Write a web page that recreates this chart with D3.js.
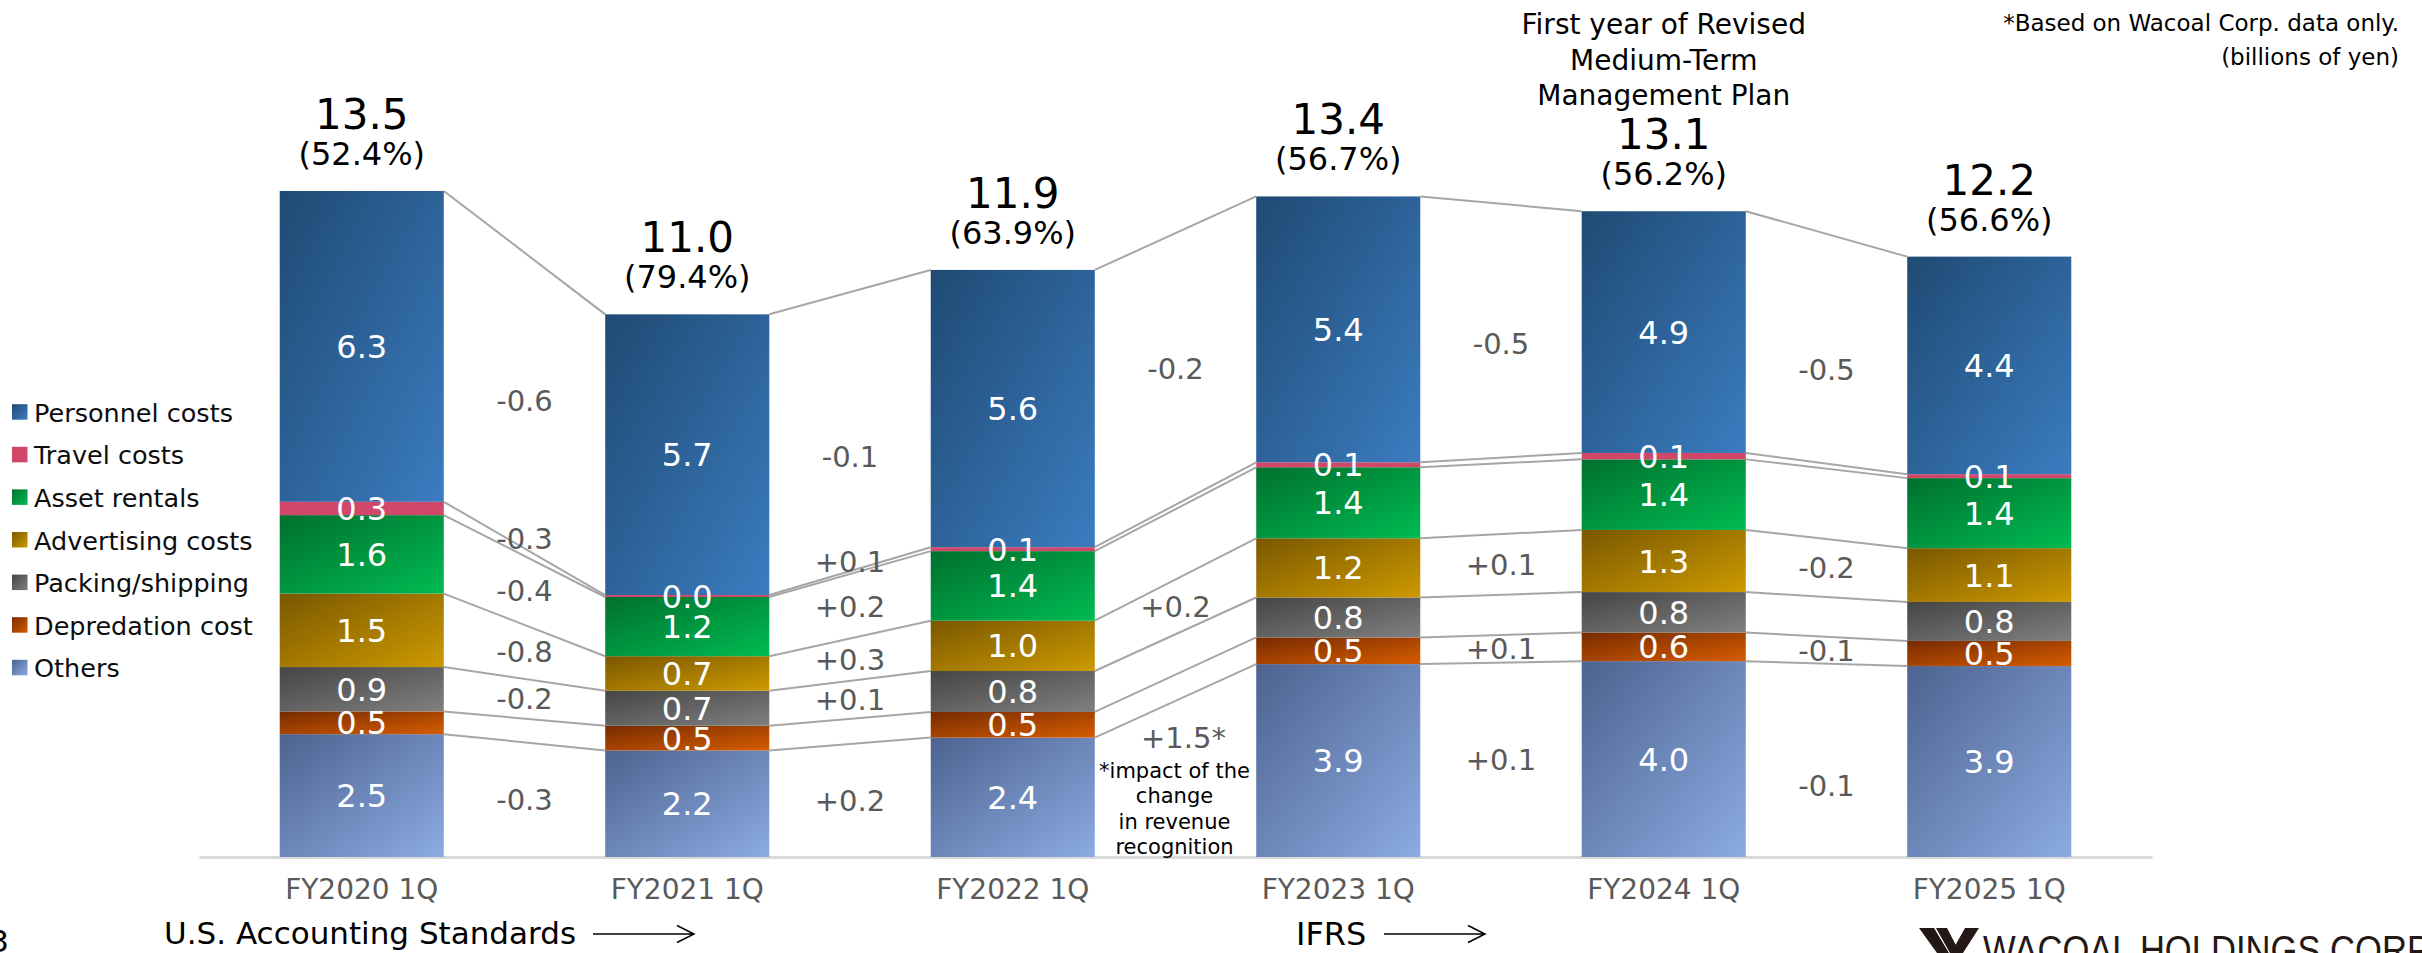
<!DOCTYPE html>
<meta charset="utf-8">
<style>
body { margin: 0; background: #fff; }
text { font-family: "DejaVu Sans", Verdana, sans-serif; }
</style>
<body>
<script src="https://d3js.org/d3.v7.min.js"></script>
<script>

// periods on the x axis
var periods = ["FY2020 1Q", "FY2021 1Q", "FY2022 1Q", "FY2023 1Q", "FY2024 1Q", "FY2025 1Q"];

// cost items (billions of yen)
var personnel    = [6.30, 5.69, 5.62, 5.39, 4.90, 4.41];
var travel       = [0.27, 0.04, 0.08, 0.10, 0.13, 0.08];
var asset        = [1.59, 1.20, 1.41, 1.44, 1.43, 1.42];
var advertising  = [1.49, 0.70, 1.02, 1.20, 1.26, 1.09];
var packing      = [0.90, 0.71, 0.83, 0.81, 0.82, 0.79];
var depreciation = [0.46, 0.50, 0.52, 0.54, 0.58, 0.51];
var others       = [2.49, 2.16, 2.42, 3.91, 3.97, 3.87];

// ratio shown under each total
var ratios = ["52.4%", "79.4%", "63.9%", "56.7%", "56.2%", "56.6%"];

// year-on-year changes written between the bars (null = no label)
var deltaPersonnel    = ["-0.6", "-0.1", "-0.2", "-0.5", "-0.5"];
var deltaTravel       = ["-0.3", "+0.1", null, null, null];
var deltaAsset        = ["-0.4", "+0.2", null, null, null];
var deltaAdvertising  = ["-0.8", "+0.3", "+0.2", "+0.1", "-0.2"];
var deltaPacking      = ["-0.2", "+0.1", null, null, null];
var deltaDepreciation = [null, null, null, "+0.1", "-0.1"];
var deltaOthers       = ["-0.3", "+0.2", "+1.5*", "+0.1", "-0.1"];

var legendNames = ["Personnel costs", "Travel costs", "Asset rentals", "Advertising costs",
                   "Packing/shipping", "Depredation cost", "Others"];

var W = 2422, H = 953;

// stacking order, bottom first
var keys = ["others", "depreciation", "packing", "advertising", "asset", "travel", "personnel"];
var values = {personnel: personnel, travel: travel, asset: asset, advertising: advertising,
              packing: packing, depreciation: depreciation, others: others};
var deltas = {personnel: deltaPersonnel, travel: deltaTravel, asset: deltaAsset,
              advertising: deltaAdvertising, packing: deltaPacking,
              depreciation: deltaDepreciation, others: deltaOthers};

// gradient colours (dark top-left -> light bottom-right)
var colors = {
  personnel:    ["#1f4a73", "#3b7cc0"],
  travel:       ["#d0476a", "#d0476a"],
  asset:        ["#00702e", "#00bb52"],
  advertising:  ["#7a5700", "#cc9a00"],
  packing:      ["#454545", "#808080"],
  depreciation: ["#772b00", "#d65c00"],
  others:       ["#4d6390", "#8babe2"]
};
var legendKeys = ["personnel", "travel", "asset", "advertising", "packing", "depreciation", "others"];

// small hand nudges for change labels that were moved to avoid overlaps (px)
var nudge = {"travel-0": -14, "personnel-1": 25, "travel-1": -11, "others-2": -41,
             "personnel-3": 13, "personnel-4": 21, "others-4": 25};

var data = periods.map(function(p, i) {
  var d = {period: p};
  keys.forEach(function(k) { d[k] = values[k][i]; });
  return d;
});

var svg = d3.select("body").append("svg")
    .attr("width", W)
    .attr("height", H);

var defs = svg.append("defs");
keys.forEach(function(k) {
  var g = defs.append("linearGradient")
      .attr("id", "grad-" + k)
      .attr("x1", 0).attr("y1", 0).attr("x2", 1).attr("y2", 1);
  g.append("stop").attr("offset", "0%").attr("stop-color", colors[k][0]);
  g.append("stop").attr("offset", "100%").attr("stop-color", colors[k][1]);
});

var x = d3.scaleBand()
    .domain(periods)
    .range([199, 2152])
    .paddingInner(0.496)
    .paddingOuter(0.248);

var y = d3.scaleLinear()
    .domain([0, 13.5])
    .range([857, 191]);

var stack = d3.stack().keys(keys)(data);
var fmt = d3.format(".1f");

// x axis
var xAxis = svg.append("g")
    .attr("transform", "translate(0,857)")
    .call(d3.axisBottom(x).tickSize(0).tickSizeOuter(0).tickPadding(22));
xAxis.select(".domain").attr("stroke", "#d9d9d9").attr("stroke-width", 3);
xAxis.selectAll("text")
    .attr("font-size", 28)
    .attr("fill", "#595959")
    .style("font-family", "'DejaVu Sans', Verdana, sans-serif");

// connector lines between the bars
var bw = x.bandwidth();
stack.forEach(function(layer) {
  for (var i = 0; i < periods.length - 1; i++) {
    svg.append("line")
        .attr("x1", x(periods[i]) + bw)
        .attr("y1", y(layer[i][1]))
        .attr("x2", x(periods[i + 1]))
        .attr("y2", y(layer[i + 1][1]))
        .attr("stroke", "#a6a6a6")
        .attr("stroke-width", 2);
  }
});

// stacked bars
svg.selectAll("g.layer")
    .data(stack)
  .enter().append("g")
    .attr("class", "layer")
    .attr("fill", function(l) { return "url(#grad-" + l.key + ")"; })
  .selectAll("rect")
    .data(function(l) { return l; })
  .enter().append("rect")
    .attr("x", function(d) { return x(d.data.period); })
    .attr("y", function(d) { return y(d[1]); })
    .attr("width", bw)
    .attr("height", function(d) { return y(d[0]) - y(d[1]); });

// segment labels
stack.forEach(function(layer) {
  svg.append("g").selectAll("text")
      .data(layer)
    .enter().append("text")
      .attr("x", function(d) { return x(d.data.period) + bw / 2; })
      .attr("y", function(d) { return (y(d[0]) + y(d[1])) / 2; })
      .attr("dy", "0.36em")
      .attr("text-anchor", "middle")
      .attr("font-size", 32)
      .attr("fill", "#fff")
      .text(function(d) { return fmt(d[1] - d[0]); });
});

// totals and ratios on top
var topLayer = stack[stack.length - 1];
topLayer.forEach(function(d, i) {
  var cx = x(d.data.period) + bw / 2;
  svg.append("text")
      .attr("x", cx).attr("y", y(d[1]) - 62)
      .attr("text-anchor", "middle")
      .attr("font-size", 42)
      .attr("fill", "#000")
      .text(fmt(d[1]));
  svg.append("text")
      .attr("x", cx).attr("y", y(d[1]) - 26)
      .attr("text-anchor", "middle")
      .attr("font-size", 32)
      .attr("fill", "#000")
      .text("(" + ratios[i] + ")");
});

// change labels between bars
stack.forEach(function(layer) {
  var k = layer.key;
  for (var i = 0; i < periods.length - 1; i++) {
    var t = deltas[k][i];
    if (!t) continue;
    var cx = (x(periods[i]) + bw + x(periods[i + 1])) / 2;
    var m1 = (y(layer[i][0]) + y(layer[i][1])) / 2;
    var m2 = (y(layer[i + 1][0]) + y(layer[i + 1][1])) / 2;
    var cy = (m1 + m2) / 2 + (nudge[k + "-" + i] || 0);
    var starred = t.indexOf("*") >= 0;
    svg.append("text")
        .attr("x", starred ? cx + 8 : cx).attr("y", cy)
        .attr("dy", "0.36em")
        .attr("text-anchor", "middle")
        .attr("font-size", 29)
        .attr("fill", "#595959")
        .text(t);
    if (starred) {
      var note = ["*impact of the", "change", "in revenue", "recognition"];
      svg.append("g").selectAll("text")
          .data(note)
        .enter().append("text")
          .attr("x", cx - 1)
          .attr("y", function(s, j) { return cy + 40 + j * 25.3; })
          .attr("text-anchor", "middle")
          .attr("font-size", 21)
          .attr("fill", "#000")
          .text(function(s) { return s; });
    }
  }
});

// legend
var legend = svg.append("g");
legendKeys.forEach(function(k, i) {
  var by = 421.7 + i * 42.6;
  legend.append("rect")
      .attr("x", 12).attr("y", by - 17.5)
      .attr("width", 15.5).attr("height", 15.5)
      .attr("fill", "url(#grad-" + k + ")");
  legend.append("text")
      .attr("x", 34).attr("y", by)
      .attr("font-size", 25.5)
      .attr("fill", "#0d0d0d")
      .text(legendNames[i]);
});

// notes at the top
var x5 = x(periods[4]) + bw / 2;
["First year of Revised", "Medium-Term", "Management Plan"].forEach(function(s, i) {
  svg.append("text")
      .attr("x", x5).attr("y", 34 + i * 35.5)
      .attr("text-anchor", "middle")
      .attr("font-size", 28)
      .attr("fill", "#000")
      .text(s);
});
svg.append("text")
    .attr("x", 2399).attr("y", 31)
    .attr("text-anchor", "end")
    .attr("font-size", 23)
    .attr("fill", "#000")
    .text("*Based on Wacoal Corp. data only.");
svg.append("text")
    .attr("x", 2399).attr("y", 65)
    .attr("text-anchor", "end")
    .attr("font-size", 23)
    .attr("fill", "#000")
    .text("(billions of yen)");

// accounting standards at the bottom
function arrow(x0, x1, yy) {
  svg.append("path")
      .attr("d", "M" + x0 + "," + yy + "H" + x1 + "M" + (x1 - 17) + "," + (yy - 8.5) +
                 "L" + x1 + "," + yy + "L" + (x1 - 17) + "," + (yy + 8.5))
      .attr("fill", "none")
      .attr("stroke", "#000")
      .attr("stroke-width", 1.5);
}
svg.append("text")
    .attr("x", 164).attr("y", 944)
    .attr("font-size", 31)
    .attr("fill", "#000")
    .text("U.S. Accounting Standards");
arrow(593, 694, 934);
svg.append("text")
    .attr("x", 1296).attr("y", 945)
    .attr("font-size", 32)
    .attr("fill", "#000")
    .text("IFRS");
arrow(1384, 1485, 934);

// page number (cut at the edge)
svg.append("text")
    .attr("x", 9).attr("y", 952)
    .attr("text-anchor", "end")
    .attr("font-size", 31)
    .attr("fill", "#000")
    .text("3");

// company logo (cut at the bottom)
svg.append("path")
    .attr("d", "M1919,928H1934L1949,953H1937Z M1936,928H1947L1960,953H1950Z M1965,928H1979L1963,953H1951Z")
    .attr("fill", "#231815");
svg.append("text")
    .attr("x", 1983).attr("y", 964)
    .attr("font-size", 41)
    .attr("textLength", 447)
    .attr("lengthAdjust", "spacingAndGlyphs")
    .attr("fill", "#231815")
    .style("font-family", "'Liberation Sans Narrow', 'Liberation Sans', Arial, sans-serif")
    .text("WACOAL HOLDINGS CORP");

</script>
</body>
